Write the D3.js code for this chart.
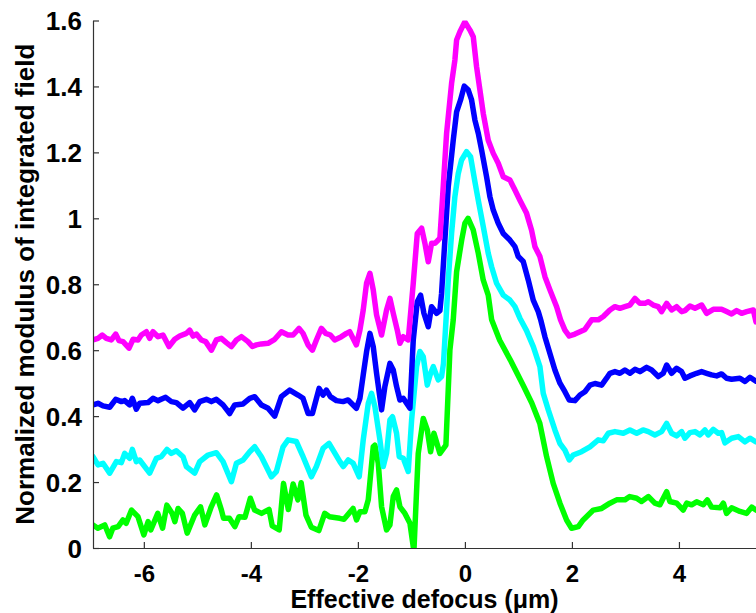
<!DOCTYPE html>
<html>
<head>
<meta charset="utf-8">
<script src="https://cdn.jsdelivr.net/npm/d3@7"></script>
<style>
  html, body { margin: 0; padding: 0; background: #fff; }
  svg { display: block; }
  text { font-family: "Liberation Sans", Arial, Helvetica, sans-serif; font-weight: bold; }
</style>
</head>
<body>
<svg id="chart" width="756" height="613"></svg>
<script>
// Axis ticks and labels
const xTicks = [-6, -4, -2, 0, 2, 4];
const xTickLabels = ["-6", "-4", "-2", "0", "2", "4"];
const yTicks = [0, 0.2, 0.4, 0.6, 0.8, 1, 1.2, 1.4, 1.6];
const yTickLabels = ["0", "0.2", "0.4", "0.6", "0.8", "1", "1.2", "1.4", "1.6"];

// Series: [defocus (µm), normalized modulus]
const greenSeries = [
  [-6.95,0.070],[-6.86,0.060],[-6.73,0.070],[-6.64,0.034],[-6.58,0.060],[-6.48,0.065],[-6.39,0.085],[-6.33,0.075],
  [-6.23,0.115],[-6.11,0.095],[-6.05,0.065],[-6.00,0.040],[-5.92,0.080],[-5.87,0.055],[-5.74,0.105],[-5.65,0.060],
  [-5.57,0.130],[-5.47,0.105],[-5.42,0.080],[-5.36,0.120],[-5.28,0.105],[-5.19,0.045],[-5.05,0.100],[-4.94,0.125],
  [-4.86,0.070],[-4.74,0.125],[-4.64,0.161],[-4.55,0.115],[-4.51,0.090],[-4.40,0.090],[-4.30,0.065],[-4.22,0.095],
  [-4.11,0.093],[-4.01,0.151],[-3.93,0.115],[-3.80,0.105],[-3.66,0.117],[-3.60,0.067],[-3.47,0.055],[-3.39,0.196],
  [-3.30,0.117],[-3.21,0.194],[-3.12,0.146],[-3.06,0.198],[-2.97,0.100],[-2.87,0.063],[-2.73,0.053],[-2.62,0.105],
  [-2.53,0.095],[-2.34,0.090],[-2.26,0.087],[-2.09,0.120],[-2.025,0.085],[-1.962,0.110],[-1.869,0.110],[-1.806,0.146],
  [-1.713,0.307],[-1.682,0.312],[-1.619,0.257],[-1.557,0.125],[-1.464,0.055],[-1.401,0.070],[-1.339,0.156],[-1.277,0.176],
  [-1.214,0.125],[-1.121,0.105],[-1.027,0.075],[-0.953,-0.010],[-0.872,0.287],[-0.778,0.393],[-0.703,0.358],[-0.641,0.292],
  [-0.579,0.348],[-0.467,0.287],[-0.355,0.312],[-0.280,0.601],[-0.218,0.692],[-0.155,0.838],[-0.060,0.934],[0.000,0.985],
  [0.060,1.000],[0.155,0.965],[0.250,0.894],[0.342,0.813],[0.436,0.767],[0.500,0.692],[0.650,0.630],[0.850,0.570],
  [1.100,0.490],[1.250,0.440],[1.400,0.378],[1.527,0.277],[1.650,0.196],[1.776,0.136],[1.900,0.085],[1.994,0.060],
  [2.120,0.065],[2.210,0.085],[2.400,0.115],[2.555,0.120],[2.710,0.136],[2.835,0.146],[2.990,0.146],[3.080,0.156],
  [3.210,0.151],[3.300,0.141],[3.430,0.156],[3.550,0.136],[3.645,0.131],[3.770,0.171],[3.830,0.141],[3.957,0.136],
  [4.080,0.115],[4.145,0.136],[4.237,0.131],[4.330,0.140],[4.455,0.131],[4.530,0.146],[4.610,0.124],[4.770,0.122],
  [4.830,0.136],[4.890,0.105],[4.985,0.122],[5.140,0.111],[5.265,0.105],[5.360,0.124],[5.440,0.115]
];

const cyanSeries = [
  [-6.95,0.277],[-6.857,0.252],[-6.763,0.257],[-6.638,0.227],[-6.514,0.262],[-6.420,0.259],[-6.358,0.287],[-6.265,0.272],
  [-6.215,0.299],[-6.140,0.262],[-6.078,0.267],[-5.891,0.227],[-5.766,0.272],[-5.673,0.277],[-5.567,0.299],[-5.486,0.287],
  [-5.392,0.295],[-5.268,0.277],[-5.205,0.247],[-5.050,0.227],[-4.956,0.262],[-4.800,0.282],[-4.645,0.289],[-4.520,0.262],
  [-4.364,0.201],[-4.270,0.257],[-4.146,0.267],[-4.021,0.292],[-3.928,0.307],[-3.803,0.277],[-3.617,0.216],[-3.523,0.232],
  [-3.398,0.307],[-3.305,0.328],[-3.149,0.323],[-3.037,0.282],[-2.869,0.216],[-2.775,0.247],[-2.651,0.302],[-2.539,0.317],
  [-2.464,0.297],[-2.336,0.262],[-2.274,0.247],[-2.180,0.267],[-2.087,0.257],[-1.975,0.216],[-1.900,0.328],[-1.806,0.439],
  [-1.744,0.469],[-1.682,0.429],[-1.588,0.328],[-1.526,0.247],[-1.464,0.287],[-1.401,0.388],[-1.352,0.398],[-1.277,0.348],
  [-1.227,0.277],[-1.152,0.272],[-1.059,0.232],[-0.996,0.388],[-0.903,0.550],[-0.841,0.596],[-0.778,0.580],[-0.703,0.494],
  [-0.641,0.530],[-0.591,0.550],[-0.498,0.510],[-0.436,0.520],[-0.400,0.560],[-0.350,0.700],[-0.311,0.813],[-0.249,0.954],
  [-0.187,1.066],[-0.124,1.136],[-0.062,1.177],[0.031,1.202],[0.106,1.187],[0.187,1.111],[0.250,1.055],[0.343,0.975],
  [0.436,0.894],[0.499,0.853],[0.592,0.803],[0.717,0.767],[0.841,0.752],[0.935,0.732],[1.028,0.697],[1.150,0.660],
  [1.280,0.610],[1.402,0.550],[1.464,0.469],[1.558,0.419],[1.682,0.358],[1.776,0.317],[1.869,0.297],[1.950,0.267],
  [2.025,0.282],[2.180,0.292],[2.337,0.307],[2.492,0.328],[2.586,0.325],[2.680,0.348],[2.804,0.353],[2.960,0.348],
  [3.084,0.358],[3.210,0.348],[3.330,0.358],[3.427,0.353],[3.550,0.343],[3.676,0.353],[3.770,0.378],[3.863,0.348],
  [3.956,0.340],[4.050,0.353],[4.112,0.333],[4.205,0.350],[4.300,0.353],[4.393,0.343],[4.486,0.358],[4.548,0.343],
  [4.642,0.360],[4.735,0.348],[4.797,0.350],[4.860,0.319],[4.984,0.333],[5.109,0.338],[5.234,0.322],[5.327,0.333],
  [5.440,0.322]
];

const blueSeries = [
  [-6.95,0.434],[-6.857,0.439],[-6.763,0.431],[-6.638,0.427],[-6.526,0.451],[-6.420,0.444],[-6.358,0.447],[-6.265,0.434],
  [-6.215,0.454],[-6.140,0.421],[-6.078,0.439],[-5.922,0.441],[-5.829,0.454],[-5.735,0.447],[-5.592,0.457],[-5.486,0.444],
  [-5.392,0.441],[-5.268,0.424],[-5.143,0.441],[-5.050,0.419],[-4.956,0.444],[-4.831,0.451],[-4.738,0.444],[-4.645,0.451],
  [-4.520,0.434],[-4.395,0.408],[-4.302,0.434],[-4.146,0.437],[-4.021,0.454],[-3.928,0.459],[-3.803,0.434],[-3.679,0.424],
  [-3.554,0.400],[-3.430,0.459],[-3.274,0.479],[-3.118,0.464],[-3.025,0.454],[-2.931,0.408],[-2.850,0.408],[-2.725,0.484],
  [-2.651,0.464],[-2.588,0.479],[-2.514,0.459],[-2.401,0.447],[-2.277,0.444],[-2.183,0.449],[-2.028,0.424],[-1.962,0.454],
  [-1.900,0.525],[-1.838,0.595],[-1.775,0.651],[-1.713,0.611],[-1.651,0.530],[-1.557,0.419],[-1.495,0.490],[-1.401,0.560],
  [-1.339,0.540],[-1.277,0.490],[-1.214,0.449],[-1.152,0.454],[-1.090,0.439],[-1.027,0.424],[-0.965,0.631],[-0.890,0.747],
  [-0.828,0.767],[-0.766,0.712],[-0.685,0.671],[-0.623,0.732],[-0.529,0.712],[-0.467,0.720],[-0.436,0.772],[-0.374,0.934],
  [-0.311,1.096],[-0.218,1.237],[-0.155,1.323],[-0.081,1.359],[-0.012,1.401],[0.063,1.389],[0.125,1.359],[0.187,1.298],
  [0.250,1.258],[0.312,1.207],[0.405,1.126],[0.467,1.066],[0.530,1.025],[0.623,0.985],[0.717,0.954],[0.841,0.934],
  [0.935,0.914],[0.997,0.884],[1.090,0.869],[1.184,0.813],[1.277,0.752],[1.371,0.717],[1.420,0.690],[1.495,0.641],
  [1.589,0.590],[1.682,0.540],[1.776,0.500],[1.869,0.474],[1.950,0.449],[2.056,0.447],[2.150,0.464],[2.243,0.474],
  [2.337,0.494],[2.430,0.499],[2.555,0.494],[2.648,0.515],[2.710,0.530],[2.804,0.535],[2.897,0.530],[2.990,0.540],
  [3.084,0.530],[3.178,0.542],[3.271,0.535],[3.396,0.548],[3.490,0.540],[3.614,0.520],[3.707,0.530],[3.770,0.555],
  [3.863,0.530],[3.956,0.545],[4.050,0.535],[4.112,0.515],[4.205,0.522],[4.330,0.530],[4.424,0.535],[4.517,0.530],
  [4.610,0.525],[4.704,0.522],[4.797,0.528],[4.890,0.515],[4.984,0.512],[5.140,0.515],[5.234,0.505],[5.327,0.518],
  [5.440,0.506]
];

const magentaSeries = [
  [-6.95,0.631],[-6.857,0.636],[-6.776,0.646],[-6.701,0.636],[-6.607,0.631],[-6.526,0.649],[-6.464,0.629],[-6.389,0.626],
  [-6.277,0.606],[-6.202,0.633],[-6.109,0.631],[-6.047,0.646],[-5.953,0.656],[-5.891,0.636],[-5.829,0.656],[-5.735,0.641],
  [-5.642,0.646],[-5.530,0.611],[-5.423,0.633],[-5.330,0.643],[-5.205,0.651],[-5.143,0.661],[-5.081,0.643],[-5.018,0.649],
  [-4.925,0.631],[-4.844,0.626],[-4.738,0.600],[-4.645,0.631],[-4.551,0.636],[-4.458,0.623],[-4.364,0.611],[-4.270,0.631],
  [-4.177,0.641],[-4.053,0.626],[-3.972,0.611],[-3.897,0.616],[-3.803,0.619],[-3.679,0.621],[-3.554,0.633],[-3.430,0.656],
  [-3.305,0.646],[-3.211,0.646],[-3.099,0.666],[-3.025,0.651],[-2.931,0.616],[-2.850,0.600],[-2.775,0.631],[-2.682,0.666],
  [-2.601,0.651],[-2.514,0.646],[-2.433,0.631],[-2.308,0.641],[-2.214,0.651],[-2.152,0.656],[-2.028,0.616],[-1.962,0.661],
  [-1.900,0.722],[-1.838,0.803],[-1.775,0.833],[-1.713,0.783],[-1.651,0.707],[-1.557,0.646],[-1.464,0.722],[-1.401,0.757],
  [-1.339,0.712],[-1.264,0.661],[-1.214,0.621],[-1.152,0.641],[-1.059,0.631],[-0.965,0.803],[-0.890,0.954],[-0.809,0.970],
  [-0.747,0.924],[-0.685,0.868],[-0.623,0.924],[-0.560,0.924],[-0.498,0.934],[-0.467,0.940],[-0.405,1.096],[-0.342,1.258],
  [-0.249,1.409],[-0.187,1.480],[-0.155,1.541],[-0.093,1.566],[0.000,1.596],[0.094,1.571],[0.156,1.551],[0.218,1.460],
  [0.281,1.389],[0.343,1.318],[0.436,1.237],[0.530,1.197],[0.623,1.167],[0.717,1.126],[0.841,1.116],[0.935,1.086],
  [1.028,1.055],[1.153,1.015],[1.246,0.964],[1.309,0.914],[1.402,0.884],[1.496,0.823],[1.589,0.783],[1.714,0.732],
  [1.788,0.692],[1.869,0.661],[1.950,0.643],[2.056,0.649],[2.150,0.656],[2.243,0.663],[2.368,0.692],[2.492,0.692],
  [2.586,0.702],[2.710,0.722],[2.804,0.732],[2.897,0.727],[2.990,0.732],[3.084,0.737],[3.178,0.757],[3.271,0.742],
  [3.365,0.742],[3.427,0.747],[3.520,0.737],[3.614,0.732],[3.676,0.717],[3.770,0.742],[3.863,0.722],[3.956,0.732],
  [4.050,0.717],[4.112,0.720],[4.205,0.734],[4.300,0.727],[4.424,0.737],[4.517,0.712],[4.642,0.724],[4.797,0.724],
  [4.890,0.717],[4.984,0.710],[5.078,0.720],[5.171,0.712],[5.265,0.717],[5.390,0.722],[5.440,0.686]
];

const seriesList = [
  { name: "green", color: "#00ff00", values: greenSeries },
  { name: "cyan", color: "#00ffff", values: cyanSeries },
  { name: "blue", color: "#0000ff", values: blueSeries },
  { name: "magenta", color: "#ff00ff", values: magentaSeries }
];

const svg = d3.select("#chart");
const plot = { left: 93, right: 756, top: 20.5, bottom: 548 };

const x = d3.scaleLinear().domain([-6.95, 5.44]).range([plot.left, plot.right]);
const y = d3.scaleLinear().domain([0, 1.6]).range([plot.bottom, plot.top]);

svg.append("defs").append("clipPath").attr("id", "plot-clip")
  .append("rect")
  .attr("x", plot.left).attr("y", plot.top)
  .attr("width", plot.right - plot.left).attr("height", plot.bottom - plot.top);

// Curves
const line = d3.line().x(d => x(d[0])).y(d => y(d[1]));
svg.append("g").attr("clip-path", "url(#plot-clip)")
  .selectAll("path")
  .data(seriesList)
  .join("path")
  .attr("fill", "none")
  .attr("stroke", d => d.color)
  .attr("stroke-width", 5.5)
  .attr("stroke-linejoin", "round")
  .attr("stroke-linecap", "round")
  .attr("d", d => line(d.values));

// Axes (ticks point inward)
const xAxis = d3.axisBottom(x)
  .tickValues(xTicks)
  .tickFormat((d, i) => xTickLabels[i])
  .tickSizeInner(-6).tickSizeOuter(0).tickPadding(0);
const gx = svg.append("g").attr("transform", `translate(0,${plot.bottom})`).call(xAxis);
gx.select(".domain").attr("stroke", "#333").attr("stroke-width", 1.2);
gx.selectAll(".tick line").attr("stroke", "#333").attr("stroke-width", 1.2);
gx.selectAll(".tick text")
  .attr("y", 34).attr("dy", null)
  .attr("fill", "#000")
  .style("font-size", "24px").style("font-weight", "bold")
  .style("font-family", '"Liberation Sans", Arial, sans-serif');

const yAxis = d3.axisLeft(y)
  .tickValues(yTicks)
  .tickFormat((d, i) => yTickLabels[i])
  .tickSizeInner(-6).tickSizeOuter(0).tickPadding(11);
const gy = svg.append("g").attr("transform", `translate(${plot.left},0)`).call(yAxis);
gy.select(".domain").attr("stroke", "#333").attr("stroke-width", 1.2);
gy.selectAll(".tick line").attr("stroke", "#333").attr("stroke-width", 1.2);
gy.selectAll(".tick text")
  .attr("dy", "0.36em")
  .attr("fill", "#000")
  .style("font-size", "26px").style("font-weight", "bold")
  .style("font-family", '"Liberation Sans", Arial, sans-serif');

// Axis titles
svg.append("text")
  .attr("x", (plot.left + plot.right) / 2)
  .attr("y", 608)
  .attr("text-anchor", "middle")
  .style("font-size", "25px")
  .text("Effective defocus (\u03bcm)");

svg.append("text")
  .attr("transform", `translate(34,${(plot.top + plot.bottom) / 2}) rotate(-90)`)
  .attr("text-anchor", "middle")
  .style("font-size", "26px")
  .text("Normalized modulus of integrated field");
</script>
</body>
</html>
